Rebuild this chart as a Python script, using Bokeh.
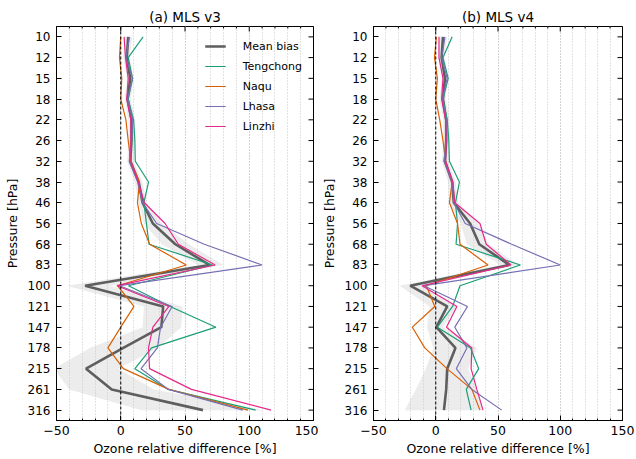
import math
from bokeh.plotting import figure
from bokeh.layouts import row
from bokeh.models import Range1d, FixedTicker, SingleIntervalTicker, Span
from bokeh.embed import file_html
from bokeh.resources import INLINE

# Pressure levels [hPa] (categorical axis, top to bottom)
levels = [10, 12, 15, 18, 22, 26, 32, 38, 46, 56, 68, 83, 100, 121, 147, 178, 215, 261, 316]

# (a) MLS v3 relative differences [%]
mean_v3 = [5.8, 4.7, 7.4, 5.3, 8.4, 8.4, 7.4, 14, 17, 25, 42.5, 69, -27.7, 33, 31.6, 2, -27, -7, 64]
lo_v3 = [3, 2, 5, 3, 6, 6, 5, 11, 14, 18, 32, 60, -42, 18, 17, -24, -52, -40, 16]
hi_v3 = [9, 7, 10, 8, 11, 11, 10, 17, 20, 32, 53, 80, -8, 48, 47, 29, -2, 26, 112]
tengchong_v3 = [17.4, 5.8, 9.2, 5.8, 10, 11, 11.3, 21.6, 18, 20, 22, 71.5, 6, 38.5, 74, 24, 11, 37, 105]
naqu_v3 = [0, -1, 0.8, 0, 4, 5.8, 7.9, 14.5, 13, 16, 22.5, 51, -2.5, 10.3, 0, -10, 2, 37.5, 99]
lhasa_v3 = [6.8, 4, 9.2, 5.3, 9.2, 8.4, 6.6, 13.2, 17, 28, 65, 110, -1, 40, 31, 28.5, 15.8, 37, 95]
linzhi_v3 = [2.6, 3.7, 5.8, 4.7, 7.9, 7.9, 7.9, 13.7, 18.4, 34.5, 44.8, 73.5, -3, 37.5, 25, 21.6, 22.4, 55, 117]

# (b) MLS v4 relative differences [%]
mean_v4 = [5.8, 4.7, 7.4, 5.8, 8.4, 8.4, 7.4, 13.2, 14.5, 27.6, 35, 59, -20.5, 9.2, 0.5, 15.8, 9.2, 8.4, 6.6]
lo_v4 = [3, 2, 5, 3, 6, 6, 5, 10, 11, 20, 25, 52, -29, -5, -7, -2, -8, -16, -25]
hi_v4 = [9, 7, 10, 8, 11, 11, 10, 16, 18, 34, 43, 66, -10, 17, 6, 33, 26, 33, 38]
tengchong_v4 = [13.2, 5.8, 10, 5.8, 9.2, 10.5, 11, 19, 15.8, 17.5, 16.3, 68, 19.5, 13.5, 1.3, 28, 34.5, 24.5, 28.4]
naqu_v4 = [0.5, -1, 1.3, 0, 3.2, 5.8, 7.9, 13.2, 11, 17.5, 19.5, 42, -7.5, -0.8, -18.8, -8.8, 9, 29, 35.5]
lhasa_v4 = [7.4, 4.7, 9.2, 5.3, 8.4, 8.4, 6.6, 13.2, 14.5, 23.7, 61, 100, -9.5, 25.5, 15.3, 25, 16.5, 29, 53]
linzhi_v4 = [2.6, 2.6, 5.8, 4.7, 7.9, 8.4, 7.9, 13.7, 15.3, 35.5, 40.5, 60.5, -11, 17, 8.6, 29, 28.4, 33, 38]

station_names = ["Tengchong", "Naqu", "Lhasa", "Linzhi"]
station_colors = ["#1b9e77", "#d95f02", "#7570b3", "#e7298a"]
x_tick_labels = {-50: "\u221250", 0: "0", 50: "50", 100: "100", 150: "150"}

FONT = "DejaVu Sans"
idx = list(range(len(levels)))
X_MIN, X_MAX = -50, 150
x_major = list(range(X_MIN, X_MAX + 1, 50))
x_minor = [v for v in range(X_MIN, X_MAX + 1, 10) if v % 50]


def style_axis(ax, font_px):
    ax.major_label_text_font = FONT
    ax.major_label_text_font_size = font_px
    ax.major_label_text_color = "black"
    ax.axis_label_text_font = FONT
    ax.axis_label_text_font_size = "12.5px"
    ax.axis_label_text_font_style = "normal"
    ax.axis_label_text_color = "black"
    ax.axis_line_color = "black"
    ax.major_tick_line_color = "black"
    ax.minor_tick_line_color = "black"
    ax.major_tick_in = 5
    ax.major_tick_out = 0
    ax.minor_tick_in = 2
    ax.minor_tick_out = 0


def make_panel(title, mean, lo, hi, series, width, bl, br, with_legend):
    y_top, y_bot = -0.5, len(levels) - 0.5
    p = figure(width=width, height=459, x_range=Range1d(X_MIN, X_MAX), y_range=Range1d(y_bot, y_top),
               output_backend="svg", toolbar_location=None,
               min_border_left=bl, min_border_right=br, min_border_top=26, min_border_bottom=39,
               x_axis_label="Ozone relative difference [%]", y_axis_label="Pressure [hPa]")
    p.title.text = title
    p.title.text_font = FONT
    p.title.text_font_size = "13.5px"
    p.title.text_font_style = "normal"
    p.title.text_color = "black"
    p.title.align = "center"
    p.title.standoff = 4
    p.outline_line_color = "black"
    p.outline_line_alpha = 1
    p.background_fill_color = "white"
    p.border_fill_color = "white"

    xa = p.xaxis[0]
    xa.ticker = SingleIntervalTicker(interval=50, num_minor_ticks=5)
    xa.major_label_overrides = x_tick_labels
    style_axis(xa, "12.5px")
    xa.major_label_standoff = 5
    xa.axis_label_standoff = 3

    ya = p.yaxis[0]
    ya.ticker = FixedTicker(ticks=idx)
    ya.major_label_overrides = {i: str(l) for i, l in zip(idx, levels)}
    style_axis(ya, "12px")
    ya.minor_tick_in = 0
    ya.major_label_standoff = 6
    ya.axis_label_standoff = 5

    p.xgrid.ticker = xa.ticker
    p.xgrid.grid_line_color = "#c4c4c4"
    p.xgrid.grid_line_dash = "1 2"
    p.xgrid.minor_grid_line_color = "#c4c4c4"
    p.xgrid.minor_grid_line_dash = "1 2"
    p.ygrid.grid_line_color = None

    p.harea(y=idx, x1=lo, x2=hi, fill_color="#c8c8c8", fill_alpha=0.35)
    p.add_layout(Span(location=0, dimension="height", line_color="black", line_width=1, line_dash="3 2"))

    # mirrored inward ticks on top and right edges (half of each dash is clipped by the frame)
    p.scatter(x=x_major, y=[y_top] * len(x_major), marker="dash", angle=math.pi / 2, size=10,
              line_color="black", line_width=1)
    p.scatter(x=x_minor, y=[y_top] * len(x_minor), marker="dash", angle=math.pi / 2, size=4,
              line_color="black", line_width=1)
    p.scatter(x=[X_MAX] * len(idx), y=idx, marker="dash", size=10, line_color="black", line_width=1)

    kw = {"legend_label": "Mean bias"} if with_legend else {}
    p.line(x=mean, y=idx, line_color="#5e5e5e", line_width=2.6, **kw)
    for name, vals, col in zip(station_names, series, station_colors):
        kw = {"legend_label": name} if with_legend else {}
        p.line(x=vals, y=idx, line_color=col, line_width=1.2, **kw)

    if with_legend:
        lg = p.legend[0]
        lg.location = "top_right"
        lg.margin = 4
        lg.padding = 7
        lg.border_line_alpha = 0
        lg.background_fill_alpha = 0
        lg.label_text_font = FONT
        lg.label_text_font_size = "11px"
        lg.label_text_color = "black"
        lg.glyph_width = 21
        lg.glyph_height = 18
        lg.label_height = 18
        lg.spacing = 2
        lg.label_standoff = 17
    return p


p1 = make_panel("(a) MLS v3", mean_v3, lo_v3, hi_v3,
                [tengchong_v3, naqu_v3, lhasa_v3, linzhi_v3], 318, 56, 5, True)
p2 = make_panel("(b) MLS v4", mean_v4, lo_v4, hi_v4,
                [tengchong_v4, naqu_v4, lhasa_v4, linzhi_v4], 318, 48, 14, False)

layout = row(p1, p2)
open("out.html", "w").write(file_html(layout, INLINE))
